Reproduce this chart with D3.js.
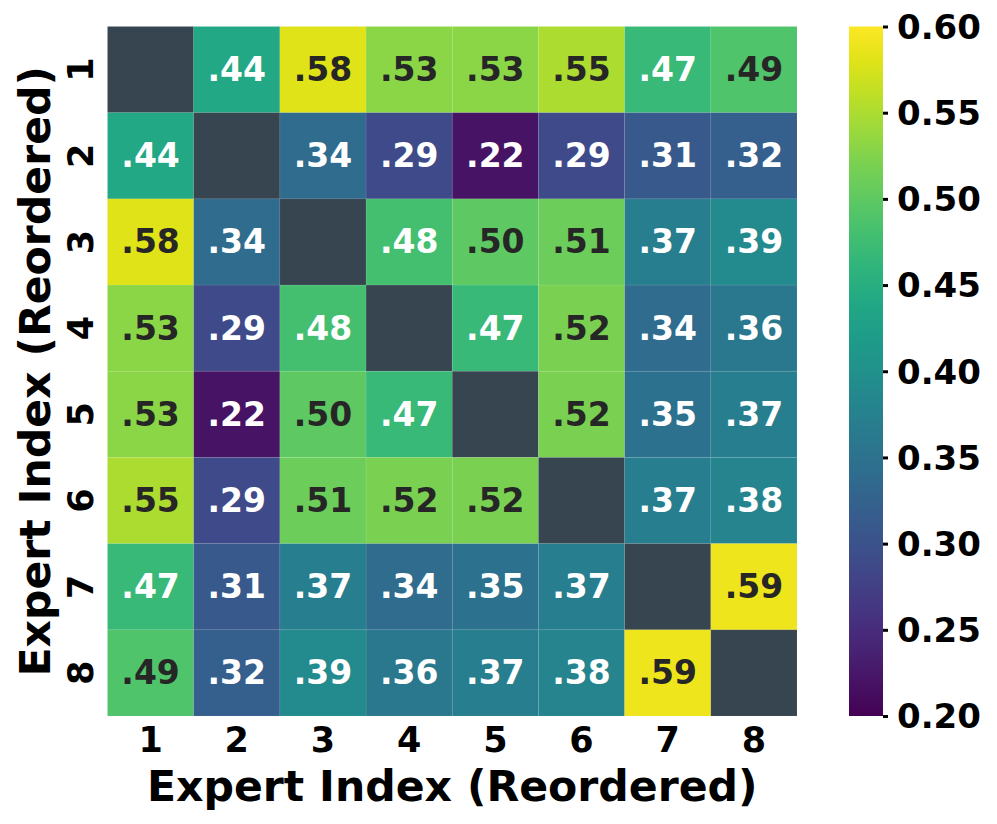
<!DOCTYPE html>
<html><head><meta charset="utf-8">
<script src="https://cdn.jsdelivr.net/npm/d3@7"></script>
<style>body{margin:0;background:#fff;} text{font-family:"DejaVu Sans",sans-serif;font-weight:bold;}</style>
</head><body>
<svg id="chart" width="997" height="824"></svg>
<script>
const labels = ["1","2","3","4","5","6","7","8"];
const matrix = [
  [null,0.44,0.58,0.53,0.53,0.55,0.47,0.49],
  [0.44,null,0.34,0.29,0.22,0.29,0.31,0.32],
  [0.58,0.34,null,0.48,0.50,0.51,0.37,0.39],
  [0.53,0.29,0.48,null,0.47,0.52,0.34,0.36],
  [0.53,0.22,0.50,0.47,null,0.52,0.35,0.37],
  [0.55,0.29,0.51,0.52,0.52,null,0.37,0.38],
  [0.47,0.31,0.37,0.34,0.35,0.37,null,0.59],
  [0.49,0.32,0.39,0.36,0.37,0.38,0.59,null]
];
const colorTicks = [0.20,0.25,0.30,0.35,0.40,0.45,0.50,0.55,0.60];
const vmin = 0.20, vmax = 0.60;
const axisTitle = "Expert Index (Reordered)";

const svg = d3.select("#chart");
const hmLeft = 107.5, hmTop = 26.5, hmSize = 689.5;
const x = d3.scaleBand().domain(labels).range([hmLeft, hmLeft+hmSize]);
const y = d3.scaleBand().domain(labels).range([hmTop, hmTop+hmSize]);
const color = d3.scaleSequential(d3.interpolateViridis).domain([vmin, vmax]);

function lum(c){
  const r = d3.rgb(c);
  const f = v => { v/=255; return v<=0.03928 ? v/12.92 : Math.pow((v+0.055)/1.055,2.4); };
  return 0.2126*f(r.r)+0.7152*f(r.g)+0.0722*f(r.b);
}

const cells = [];
matrix.forEach((row,i)=>row.forEach((v,j)=>cells.push({i,j,v})));

svg.append("g").selectAll("rect").data(cells).join("rect")
  .attr("x", d=>x(labels[d.j])).attr("y", d=>y(labels[d.i]))
  .attr("width", x.bandwidth()).attr("height", y.bandwidth())
  .attr("fill", d=> d.v===null ? "#36454f" : color(d.v))
  .attr("stroke", "rgba(255,255,255,0.06)").attr("stroke-width", 1);

svg.append("g").selectAll("text").data(cells.filter(d=>d.v!==null)).join("text")
  .attr("x", d=>x(labels[d.j])+x.bandwidth()/2)
  .attr("y", d=>y(labels[d.i])+y.bandwidth()/2)
  .attr("text-anchor","middle").attr("dominant-baseline","central")
  .attr("font-size", 33)
  .attr("fill", d=> lum(color(d.v))>0.408 ? "#262626" : "#ffffff")
  .text(d=> d3.format(".2f")(d.v).replace(/^0/,""));

// x tick labels
svg.append("g").selectAll("text").data(labels).join("text")
  .attr("x", d=>x(d)+x.bandwidth()/2).attr("y", 740)
  .attr("text-anchor","middle").attr("dominant-baseline","central")
  .attr("font-size", 35).attr("fill","#000").text(d=>d);

// y tick labels (rotated)
svg.append("g").selectAll("text").data(labels).join("text")
  .attr("transform", d=>`translate(81,${y(d)+y.bandwidth()/2}) rotate(-90)`)
  .attr("text-anchor","middle").attr("dominant-baseline","central")
  .attr("font-size", 35).attr("fill","#000").text(d=>d);

// axis titles
svg.append("text").attr("x", hmLeft+hmSize/2).attr("y", 786)
  .attr("text-anchor","middle").attr("dominant-baseline","central")
  .attr("font-size", 42.6).attr("fill","#000").text(axisTitle);
svg.append("text").attr("transform", `translate(35,${hmTop+hmSize/2}) rotate(-90)`)
  .attr("text-anchor","middle").attr("dominant-baseline","central")
  .attr("font-size", 42.6).attr("fill","#000").text(axisTitle);

// colorbar
const cbX = 849, cbW = 34, cbTop = 26.5, cbBot = 716;
const cy = d3.scaleLinear().domain([vmin, vmax]).range([cbBot, cbTop]);
const defs = svg.append("defs");
const grad = defs.append("linearGradient").attr("id","vgrad")
  .attr("x1","0").attr("y1","1").attr("x2","0").attr("y2","0");
d3.range(0,1.0001,0.05).forEach(t=>{
  grad.append("stop").attr("offset", t).attr("stop-color", d3.interpolateViridis(t));
});
svg.append("rect").attr("x", cbX).attr("y", cbTop).attr("width", cbW).attr("height", cbBot-cbTop)
  .attr("fill","url(#vgrad)");
const cAxis = d3.axisRight(cy).tickValues(colorTicks).tickFormat(d3.format(".2f")).tickSize(5).tickPadding(9);
const cg = svg.append("g").attr("transform", `translate(${cbX+cbW},0)`).call(cAxis);
cg.select(".domain").remove();
cg.selectAll(".tick line").attr("stroke","#000").attr("stroke-width",3);
cg.selectAll(".tick text").attr("font-size", 34).attr("fill","#000")
  .attr("font-family","DejaVu Sans").attr("font-weight","bold").attr("dy","0.35em");
</script>
</body></html>
